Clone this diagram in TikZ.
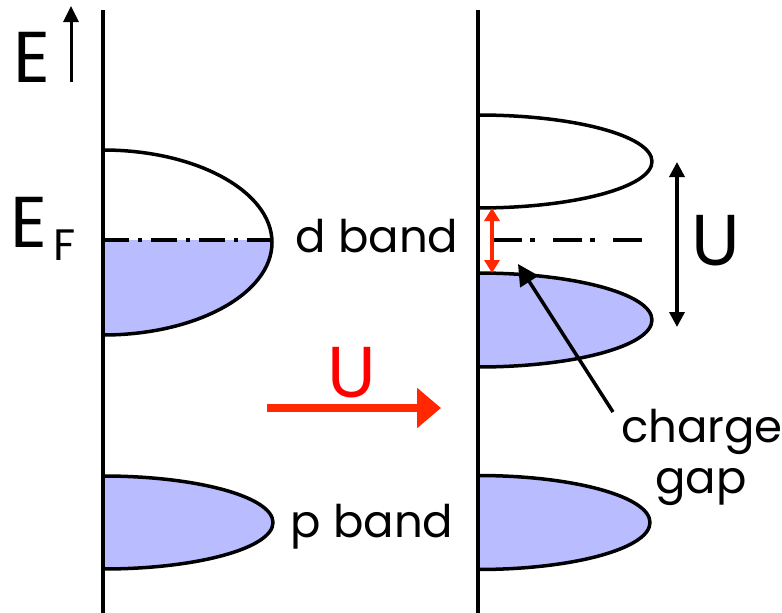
\documentclass[tikz,border=0pt]{standalone}
\usepackage{fontspec}
\setmainfont{Poppins}
\usetikzlibrary{arrows.meta}
\definecolor{bandblue}{RGB}{185,189,255}
\definecolor{arrred}{RGB}{255,40,0}
\definecolor{txtred}{RGB}{255,0,0}
\begin{document}
\begin{tikzpicture}[x=1pt,y=-1pt, line join=round,
  axis/.style={line width=3.5pt},
  bandline/.style={line width=3.5pt},
  efline/.style={line width=3.5pt},
  lbl/.style={anchor=base, inner sep=0pt, font=\fontsize{45}{50}\selectfont},
  big/.style={anchor=base, inner sep=0pt, font=\fontsize{72}{76}\selectfont},
  sub/.style={anchor=base west, inner sep=0pt, font=\fontsize{44}{48}\selectfont}]
\useasboundingbox (0,0) rectangle (782,613);

% left bands
\begin{scope}
  \clip (103,240) rectangle (400,400);
  \fill[bandblue] (103,242.5) ellipse [x radius=169, y radius=92.5];
\end{scope}
\begin{scope}
  \clip (103,0) rectangle (478,613);
  \fill[bandblue] (103,522.5) ellipse [x radius=170, y radius=46.5];
  \draw[bandline] (103,242.5) ellipse [x radius=169, y radius=92.5];
  \draw[bandline] (103,522.5) ellipse [x radius=170, y radius=46.5];
\end{scope}
% right bands
\begin{scope}
  \clip (478,0) rectangle (782,613);
  \fill[bandblue] (478,320) ellipse [x radius=174, y radius=47];
  \fill[bandblue] (478,522.5) ellipse [x radius=172, y radius=47];
  \draw[bandline] (478,161.5) ellipse [x radius=174, y radius=46.5];
  \draw[bandline] (478,320) ellipse [x radius=174, y radius=47];
  \draw[bandline] (478,522.5) ellipse [x radius=172, y radius=47];
\end{scope}

% Fermi level lines
\coordinate (EFl1) at (103,240); \coordinate (EFl2) at (270,240);
\coordinate (EFr1) at (478,240); \coordinate (EFr2) at (645,240);
\draw[efline, dash pattern=on 26pt off 9pt on 4pt off 9pt] (EFl1) -- (EFl2);
\draw[efline, dash pattern=on 29pt off 8pt on 5pt off 18pt, dash phase=45pt] (EFr1) -- (EFr2);

% axes
\coordinate (LT) at (103,10); \coordinate (LB) at (103,615);
\coordinate (RT) at (478,10); \coordinate (RB) at (478,615);
\draw[axis] (LT) -- (LB);
\draw[axis] (RT) -- (RB);

% energy arrow
\coordinate (Ea) at (71,82); \coordinate (Eb) at (71,6);
\draw[line width=3pt, -{Triangle[length=16pt,width=15pt]}] (Ea) -- (Eb);

% gap arrow (red)
\coordinate (g1) at (492,208); \coordinate (g2) at (492,273);
\draw[arrred, line width=3.5pt, {Triangle[length=13pt,width=15pt]}-{Triangle[length=13pt,width=15pt]}] (g1) -- (g2);

% U arrow (black)
\coordinate (u1) at (677,162); \coordinate (u2) at (677,327);
\draw[line width=3.5pt, {Triangle[length=15pt,width=15pt]}-{Triangle[length=15pt,width=15pt]}] (u1) -- (u2);

% charge gap pointer
\coordinate (c1) at (613,412); \coordinate (c2) at (518,264);
\draw[line width=3.5pt, -{Triangle[length=21pt,width=21pt]}] (c1) -- (c2);

% big red arrow
\coordinate (r1) at (267,408); \coordinate (r2) at (441,408);
\draw[arrred, line width=8pt, -{Triangle[length=24pt,width=39pt]}] (r1) -- (r2);

% texts
\node[big] (E) at (32,82) {E};
\node[big, anchor=base west] (EFE) at (10,247) {E};
\node[sub] (EFF) at (53,260) {F};
\node[lbl] (dband) at (377,252) {d band};
\node[lbl] (pband) at (372,537) {p band};
\node[big] (U) at (716,265) {U};
\node[big, text=txtred] (Ured) at (352,397) {U};
\node[lbl] (charge) at (702,442) {charge};
\node[lbl] (gap) at (701,493) {gap};
\end{tikzpicture}
\end{document}
